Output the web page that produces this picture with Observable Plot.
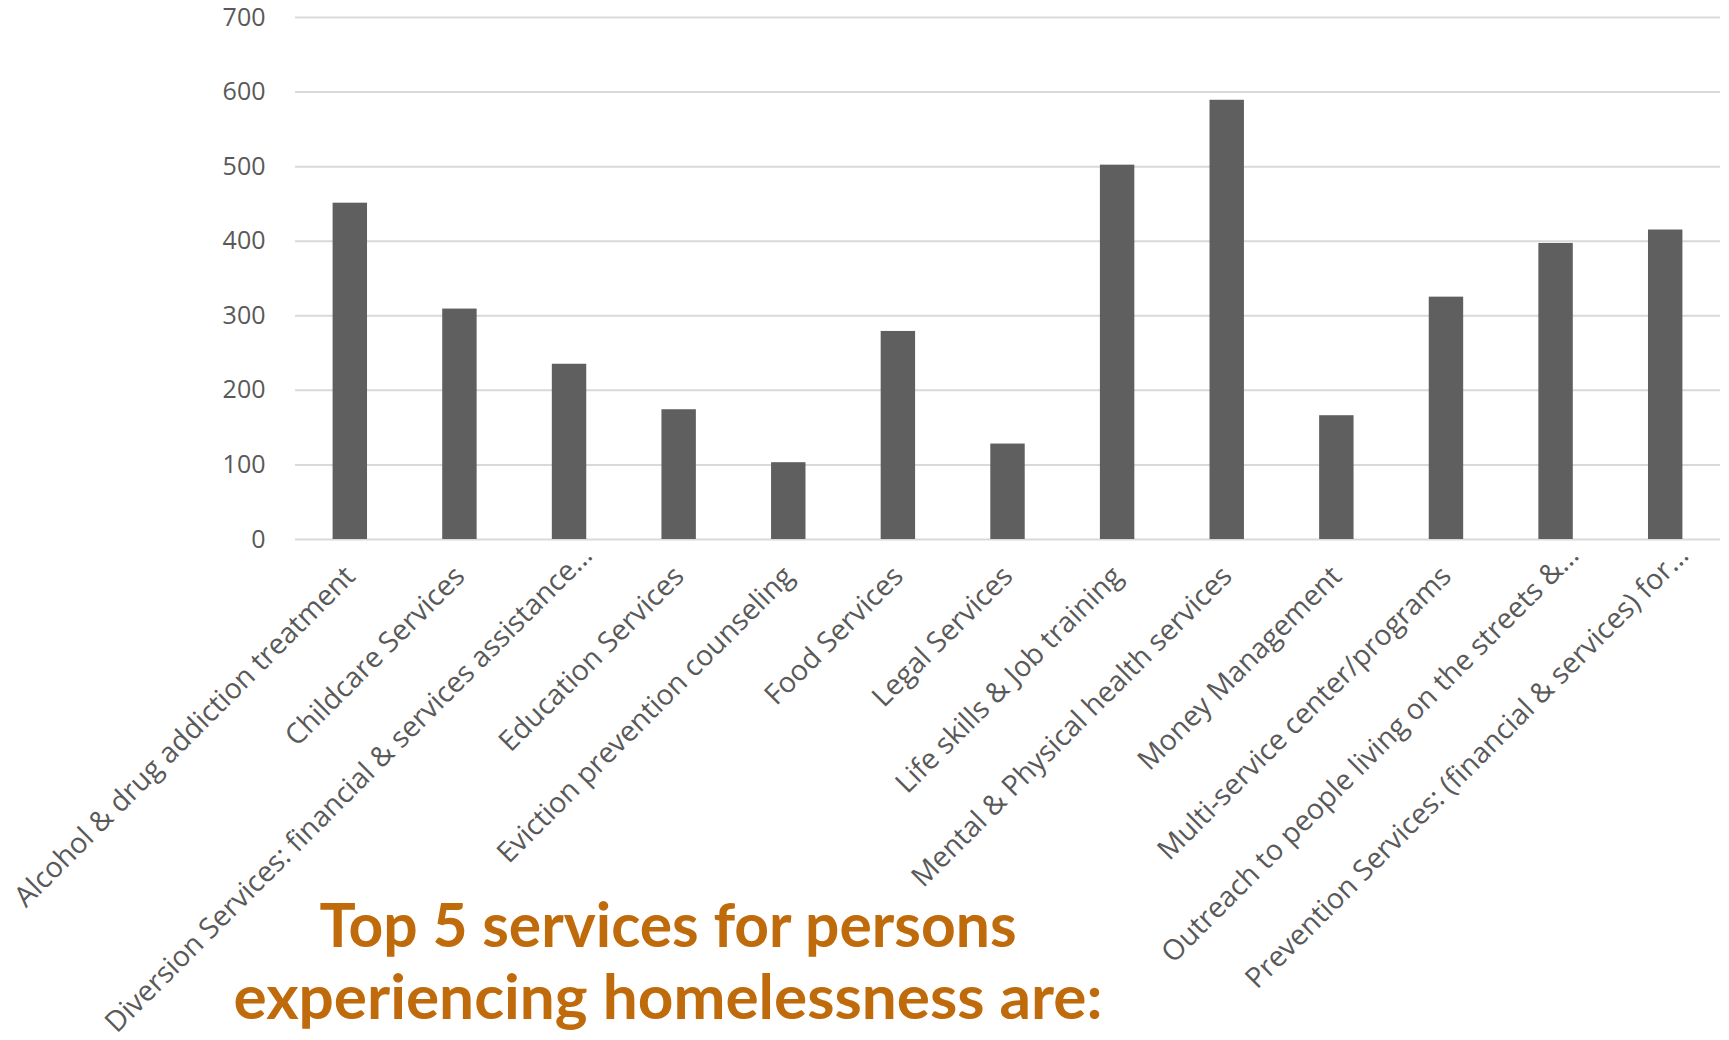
<!DOCTYPE html>
<html>
<head>
<meta charset="utf-8">
<script src="https://cdn.jsdelivr.net/npm/d3@7"></script>
<script src="https://cdn.jsdelivr.net/npm/@observablehq/plot@0.6"></script>
<style>
  html, body { margin: 0; padding: 0; background: #fff; }
  #wrap { position: relative; width: 1729px; height: 1040px; overflow: hidden; }
  #wrap svg { position: absolute; left: 0; top: 0; }
</style>
</head>
<body>
<div id="wrap"></div>
<script>
const categories = [
  "Alcohol & drug addiction treatment",
  "Childcare Services",
  "Diversion Services: financial & services assistance…",
  "Education Services",
  "Eviction prevention counseling",
  "Food Services",
  "Legal Services",
  "Life skills & Job training",
  "Mental & Physical health services",
  "Money Management",
  "Multi-service center/programs",
  "Outreach to people living on the streets &…",
  "Prevention Services: (financial & services) for…"
];
const values = [451, 309, 235, 174, 103, 279, 128, 502, 589, 166, 325, 397, 415];
const yTicks = [0, 100, 200, 300, 400, 500, 600, 700];
const titleLines = ["Top 5 services for persons", "experiencing homelessness are:"];

const data = categories.map((c, i) => ({category: c, value: values[i]}));
const fullLabels = categories.filter(c => !c.endsWith("…"));
const cutLabels = categories.filter(c => c.endsWith("…"));

const labelStyle = {
  frameAnchor: "bottom", rotate: -45, textAnchor: "end", lineAnchor: "middle",
  fontSize: 28.5, fill: "#595959"
};

const chart = Plot.plot({
  width: 1729,
  height: 1040,
  marginLeft: 295,
  marginRight: 9,
  marginTop: 17,
  marginBottom: 501,
  style: {fontFamily: "Open Sans, sans-serif", color: "#595959", background: "transparent"},
  x: {domain: categories, paddingInner: 0.686, paddingOuter: 0.343, round: false, label: null, axis: null},
  y: {domain: [0, 700], label: null},
  marks: [
    Plot.gridY(yTicks, {stroke: "#d9d9d9", strokeOpacity: 1, strokeWidth: 2}),
    Plot.barY(data, {x: "category", y: "value", fill: "#5f5f5f"}),
    Plot.axisY(yTicks, {tickSize: 0, tickPadding: 30, fontSize: 25, fill: "#595959", label: null}),
    Plot.text(fullLabels, {x: d => d, text: d => d, dy: 32, ...labelStyle}),
    Plot.text(cutLabels, {x: d => d, text: d => d, dx: 18, dy: 11, ...labelStyle})
  ]
});
document.getElementById("wrap").appendChild(chart);

// Title overlay
const ov = d3.select("#wrap").append("svg")
  .attr("width", 1729).attr("height", 1040)
  .style("pointer-events", "none");
const lines = [
  {text: titleLines[0], y: 947, len: 697},
  {text: titleLines[1], y: 1019, len: 869}
];
ov.selectAll("text").data(lines).join("text")
  .attr("x", 668)
  .attr("y", d => d.y)
  .attr("text-anchor", "middle")
  .attr("font-family", "Lato, sans-serif")
  .attr("font-weight", "bold")
  .attr("font-size", 62)
  .attr("fill", "#bf6a0b")
  .attr("textLength", d => d.len)
  .attr("lengthAdjust", "spacingAndGlyphs")
  .text(d => d.text);
</script>
</body>
</html>
